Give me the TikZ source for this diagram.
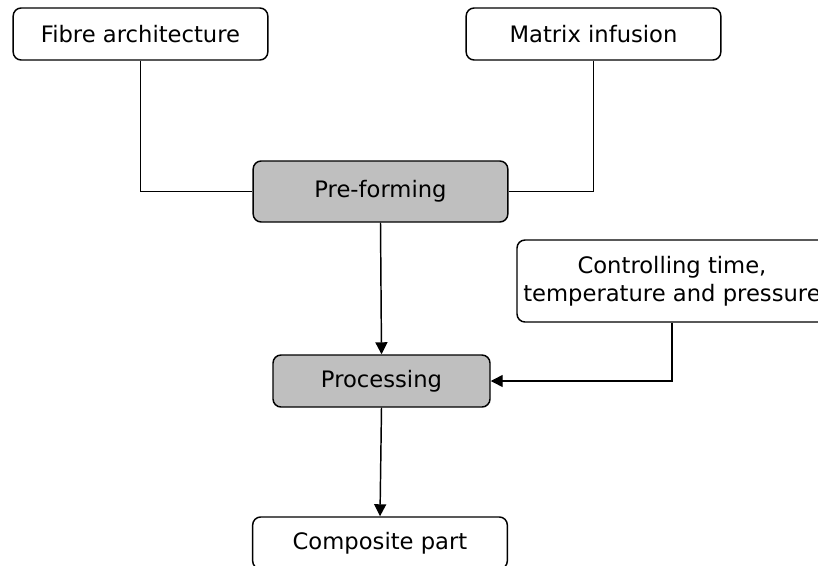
\documentclass[tikz,border=0pt]{standalone}
\usepackage{fontspec}
\setmainfont{DejaVu Sans}
\usepackage{tikz}
\usetikzlibrary{arrows.meta}

\tikzset{
    box/.style={draw, line width=1.1pt, rounded corners=6pt, fill=white,
        minimum height=39pt, minimum width=191pt, inner sep=0pt,
        font=\fontsize{17}{21}\selectfont, align=center},
    stage/.style={box, fill=gray!50},
    link/.style={line width=1.1pt},
    arr/.style={link, -{Triangle[length=9pt,width=9pt]}}
}

\begin{document}
\begin{tikzpicture}[x=0.75pt,y=-0.75pt]
                \useasboundingbox (0,0) rectangle (818,565);
                \node[box] (fibre) at (140.5,34) {Fibre architecture};
                \node[box] (matrix) at (593.5,34) {Matrix infusion};
                \node[stage, minimum height=45.75pt] (preform) at (380.5,191.5) {Pre-forming};
                \node[box, minimum width=232.5pt, minimum height=61.5pt] (control) at (672,281)
                    {Controlling time,\\ temperature and pressure};
                \node[stage, minimum width=162.75pt] (process) at (381.5,381) {Processing};
                \node[box] (part) at (380,543) {Composite part};
                \draw[link]
                    (fibre.south) |- (preform.west);
                \draw[link]
                    (matrix.south) |- (preform.east);
                \draw[arr]
                    (preform.south) -- (process.north);
                \draw[arr]
                    (control.south) |- (process.east);
                \draw[arr]
                    (process.south) -- (part.north);
            \end{tikzpicture}
\end{document}
